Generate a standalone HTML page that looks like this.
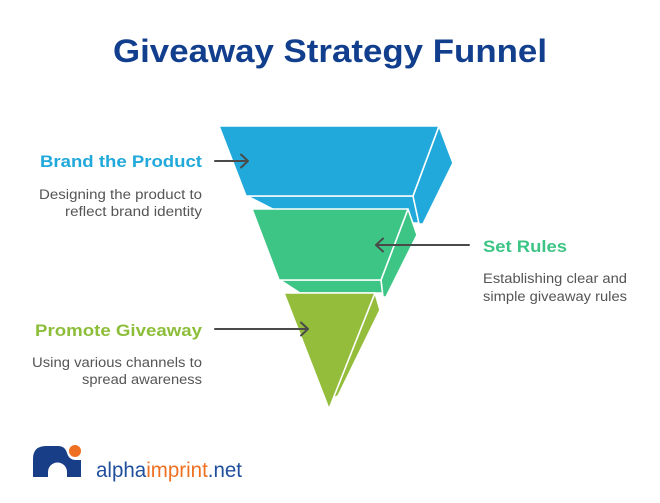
<!DOCTYPE html>
<html><head><meta charset="utf-8"><style>
html,body{margin:0;padding:0;background:#fff;}
svg{display:block;}
text{font-family:"Liberation Sans",Arial,sans-serif;}
</style></head><body>
<svg width="660" height="503" viewBox="0 0 660 503" xmlns="http://www.w3.org/2000/svg">
<rect width="660" height="503" fill="#fff"/>
<text x="113" y="62" font-size="32" font-weight="bold" fill="#123F8D" textLength="434" lengthAdjust="spacingAndGlyphs">Giveaway Strategy Funnel</text>

<!-- Blue tier -->
<g fill="#20A9DA" stroke="#fff" stroke-width="1.6" stroke-linejoin="round">
<polygon points="247,196 413,196 420,223 300,223"/>
<polygon points="439,126 453,163 423,224 419,224 413,196"/>
<polygon points="219,126 439,126 413,196 246,196"/>
</g>
<!-- Green tier -->
<g fill="#3DC585" stroke="#fff" stroke-width="1.6" stroke-linejoin="round">
<polygon points="280,280 381,280 384,293 300,293"/>
<polygon points="408,209 417,235 386,297 383,297 381,280"/>
<polygon points="252,209 408,209 381,280 279,280"/>
</g>
<!-- Olive tier -->
<g fill="#93BD3B" stroke="#fff" stroke-width="1.6" stroke-linejoin="round">
<polygon points="375,293 380,310 338,396 333,398"/>
<polygon points="284,293 375,293 329,409"/>
</g>

<!-- Arrows -->
<g stroke="#4A4A4A" stroke-width="2" fill="none" stroke-linecap="round" stroke-linejoin="round">
<line x1="215" y1="161" x2="247" y2="161"/>
<polyline points="241,154.5 248,161 241,167.5"/>
<line x1="469" y1="245" x2="377" y2="245"/>
<polyline points="383,238.5 376,245 383,251.5"/>
<line x1="215" y1="329" x2="307" y2="329"/>
<polyline points="301,322.5 308,329 301,335.5"/>
</g>

<!-- Labels -->
<text x="40" y="167" font-size="17" font-weight="bold" fill="#20A9DA" textLength="162" lengthAdjust="spacingAndGlyphs">Brand the Product</text>
<text x="202" y="199" font-size="13.5" fill="#555" text-anchor="end" textLength="163" lengthAdjust="spacingAndGlyphs">Designing the product to</text>
<text x="202" y="216" font-size="13.5" fill="#555" text-anchor="end" textLength="137" lengthAdjust="spacingAndGlyphs">reflect brand identity</text>

<text x="483" y="252" font-size="17" font-weight="bold" fill="#3DC585" textLength="84" lengthAdjust="spacingAndGlyphs">Set Rules</text>
<text x="483" y="283" font-size="13.5" fill="#555" textLength="144" lengthAdjust="spacingAndGlyphs">Establishing clear and</text>
<text x="483" y="301" font-size="13.5" fill="#555" textLength="144" lengthAdjust="spacingAndGlyphs">simple giveaway rules</text>

<text x="35" y="336" font-size="17" font-weight="bold" fill="#8DBE3A" textLength="167" lengthAdjust="spacingAndGlyphs">Promote Giveaway</text>
<text x="202" y="367" font-size="13.5" fill="#555" text-anchor="end" textLength="170" lengthAdjust="spacingAndGlyphs">Using various channels to</text>
<text x="202" y="384" font-size="13.5" fill="#555" text-anchor="end" textLength="120" lengthAdjust="spacingAndGlyphs">spread awareness</text>

<!-- Logo -->
<path d="M33,477 L33,459 Q33,446 46,446 L58,446 Q65,446 67,453 Q69,460 76,460 L81,460 L81,477 L67,477 L67,472 A9.5,9.5 0 0 0 48,472 L48,477 Z" fill="#173E86"/>
<circle cx="75" cy="451" r="6" fill="#F07022"/>
<text x="96" y="477" font-size="21" textLength="146" lengthAdjust="spacingAndGlyphs"><tspan fill="#1F4E9C">alpha</tspan><tspan fill="#F07022">imprint</tspan><tspan fill="#1F4E9C">.net</tspan></text>
</svg>
</body></html>
